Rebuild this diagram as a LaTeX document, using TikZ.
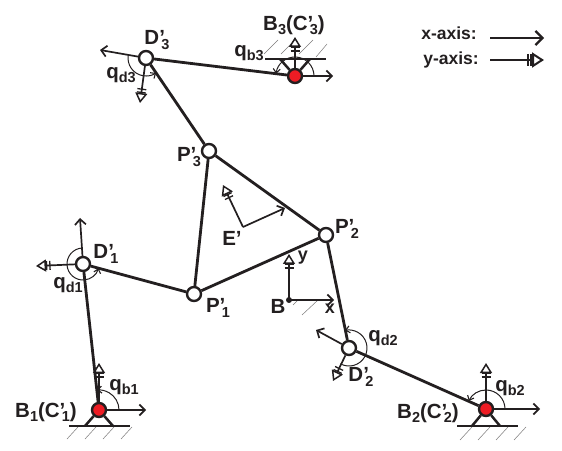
\documentclass[tikz,border=0pt]{standalone}
\usepackage{fontspec}
\setmainfont{Liberation Sans}[BoldFont={Liberation Sans Bold}]
\usetikzlibrary{arrows.meta}
\definecolor{ink}{HTML}{231F20}
\definecolor{jointred}{HTML}{ED1C24}
\newcommand{\sbs}[1]{\raisebox{-4.5pt}{\fontsize{14.5}{14.5}\selectfont #1}}
\newcommand{\ps}[2]{#1'\kern-3.5pt\sbs{#2}}
\tikzset{
  x=1pt,y=1pt,
  link/.style={draw=ink,line width=2.8pt},
  free/.style={circle,draw=ink,line width=2.4pt,fill=white,minimum size=14pt,inner sep=0pt},
  fixed/.style={circle,draw=ink,line width=2.4pt,fill=jointred,minimum size=14pt,inner sep=0pt},
  xaxis/.style={draw=ink,line width=1.7pt,-{Straight Barb[length=5.5pt,width=11pt,line width=1.7pt]}},
  yaxis/.style={draw=ink,line width=1.7pt,-{Bar[width=9pt,sep=2pt,line width=1.3pt]Bar[width=9pt,sep=0pt,line width=1.3pt]Triangle[open,length=10pt,width=12pt,line width=1.5pt]}},
  angle/.style={draw=ink,line width=1pt,-{Straight Barb[length=4pt,width=7pt,line width=1.1pt]}},
  ground/.style={draw=ink,line width=2.5pt},
  hatch/.style={line width=.5pt,draw=ink!60},
  lab/.style={font=\fontsize{20.5}{20.5}\selectfont\bfseries,text=ink,inner sep=0pt},
  axlab/.style={font=\fontsize{18}{18}\selectfont\bfseries,text=ink,inner sep=0pt},
  leg/.style={font=\fontsize{17.5}{17.5}\selectfont\bfseries,text=ink,inner sep=0pt},
  legx/.style={draw=ink,line width=2.3pt,-{Straight Barb[length=7pt,width=14pt,line width=2.3pt]}},
  legy/.style={draw=ink,line width=2.3pt,-{Bar[width=12pt,sep=1.5pt,line width=1.7pt]Bar[width=12pt,sep=0pt,line width=1.7pt]Triangle[open,length=12pt,width=15pt,line width=2pt]}},
}
\begin{document}
\begin{tikzpicture}
\useasboundingbox (0,0) rectangle (562,450);
% joints
\node[fixed] (B1) at (99,40) {};
\node[free] (D1) at (83,186) {};
\node[free] (P1) at (194,156) {};
\node[free] (P2) at (326,215) {};
\node[free] (P3) at (209,299) {};
\node[free] (D3) at (146,392) {};
\node[fixed] (B3) at (295,374) {};
\node[free] (D2) at (349,102) {};
\node[fixed] (B2) at (486,41) {};
\fill[ink] (289,150) circle (3pt);
\coordinate (B) at (289,150);
\coordinate (E) at (243,223);
% links
\draw[link] (B1) -- (D1);
\draw[link] (D1) -- (P1);
\draw[link] (P1) -- (P2);
\draw[link] (P2) -- (P3);
\draw[link] (P3) -- (P1);
\draw[link] (P3) -- (D3);
\draw[link] (D3) -- (B3);
\draw[link] (P2) -- (D2);
\draw[link] (D2) -- (B2);
% ground 1
\coordinate (g1a) at (85,24); \coordinate (g1b) at (113,24);
\coordinate (g1l) at (69,24); \coordinate (g1r) at (130,24);
\draw[ground] (B1) -- (g1a); \draw[ground] (B1) -- (g1b); \draw[ground] (g1l) -- (g1r);
\foreach \s in {67,85,103,121}{\draw[hatch] (\s,11) -- ++(11,12);}
% ground 2
\coordinate (g2a) at (472,24); \coordinate (g2b) at (500,24);
\coordinate (g2l) at (457,24); \coordinate (g2r) at (518,24);
\draw[ground] (B2) -- (g2a); \draw[ground] (B2) -- (g2b); \draw[ground] (g2l) -- (g2r);
\foreach \s in {460,478,496,514}{\draw[hatch] (\s,10) -- ++(12,13);}
% ground 3
\coordinate (g3a) at (280,391); \coordinate (g3b) at (310,391);
\coordinate (g3l) at (265,391); \coordinate (g3r) at (326,391);
\draw[ground] (B3) -- (g3a); \draw[ground] (B3) -- (g3b); \draw[ground] (g3l) -- (g3r);
\foreach \s in {264,281,299}{\draw[hatch] (\s,396) -- ++(14,14);}
\draw[hatch] (316,393) -- ++(11,13);
% base frame hatch
\draw[hatch] (302,135) -- (318,150);
\draw[hatch] (293,145) -- (298,150);
% axes
\coordinate (B1x) at (146,40); \coordinate (B1y) at (99,87);
\coordinate (B2x) at (540,41); \coordinate (B2y) at (486,87);
\coordinate (B3x) at (333,374); \coordinate (B3y) at (295,413);
\coordinate (D1x) at (80,232); \coordinate (D1y) at (36,184);
\coordinate (D2x) at (316,120); \coordinate (D2y) at (333,69);
\coordinate (D3x) at (100,400); \coordinate (D3y) at (140,347);
\coordinate (Bx) at (334,150); \coordinate (By) at (289,196);
\coordinate (Ex) at (285,242); \coordinate (Ey) at (223,265);
\draw[xaxis] (B1) -- (B1x); \draw[yaxis] (B1) -- (B1y);
\draw[xaxis] (B2) -- (B2x); \draw[yaxis] (B2) -- (B2y);
\draw[xaxis] (B3) -- (B3x); \draw[yaxis] (B3) -- (B3y);
\draw[xaxis] (D1) -- (D1x); \draw[yaxis] (D1) -- (D1y);
\draw[xaxis] (D2) -- (D2x); \draw[yaxis] (D2) -- (D2y);
\draw[xaxis] (D3) -- (D3x); \draw[yaxis] (D3) -- (D3y);
\draw[xaxis] (B) -- (Bx); \draw[yaxis] (B) -- (By);
\draw[xaxis] (E) -- (Ex); \draw[yaxis] (E) -- (Ey);
% angles
\draw[angle] (B1.center) ++(0:20) arc[start angle=0,end angle=96,radius=20];
\draw[angle] (B2.center) ++(0:19) arc[start angle=0,end angle=155,radius=19];
\draw[angle] (B3.center) ++(0:19) arc[start angle=0,end angle=173,radius=19];
\draw[angle] (D1.center) ++(94:16) arc[start angle=94,end angle=345,radius=16];
\draw[angle] (D2.center) ++(241:18) arc[start angle=241,end angle=463,radius=18];
\draw[angle] (D3.center) ++(170:18) arc[start angle=170,end angle=304,radius=18];
% labels
\node[lab] (lB1) at (46,38) {B\sbs{1}(\ps{C}{1})};
\node[lab] (lD1) at (106,196) {\ps{D}{1}};
\node[lab] (lqd1) at (68,165) {q\sbs{d1}};
\node[lab] (lqb1) at (124,63) {q\sbs{b1}};
\node[lab] (lP1) at (218,142) {\ps{P}{1}};
\node[lab] (lP2) at (347,221) {\ps{P}{2}};
\node[lab] (lP3) at (189,293) {\ps{P}{3}};
\node[lab] (lE) at (232,212) {E'};
\node[lab] (lB) at (278,144) {B};
\node[axlab] (ly) at (303,192) {y};
\node[axlab] (lx) at (330,141) {x};
\node[lab] (lqd2) at (383,112) {q\sbs{d2}};
\node[lab] (lD2) at (361,73) {\ps{D}{2}};
\node[lab] (lqb2) at (510,62) {q\sbs{b2}};
\node[lab] (lB2) at (428,37) {B\sbs{2}(\ps{C}{2})};
\node[lab] (lD3) at (157,410) {\ps{D}{3}};
\node[lab] (lqd3) at (121,375) {q\sbs{d3}};
\node[lab] (lqb3) at (249,397) {q\sbs{b3}};
\node[lab] (lB3) at (294,425) {B\sbs{3}(\ps{C}{3})};
% legend
\node[leg] (lxa) at (449,417) {x-axis:};
\node[leg] (lya) at (451,390) {y-axis:};
\coordinate (lx0) at (490,412); \coordinate (lx1) at (544,412);
\coordinate (ly0) at (490,390); \coordinate (ly1) at (544,390);
\draw[legx] (lx0) -- (lx1);
\draw[legy] (ly0) -- (ly1);
\end{tikzpicture}
\end{document}
